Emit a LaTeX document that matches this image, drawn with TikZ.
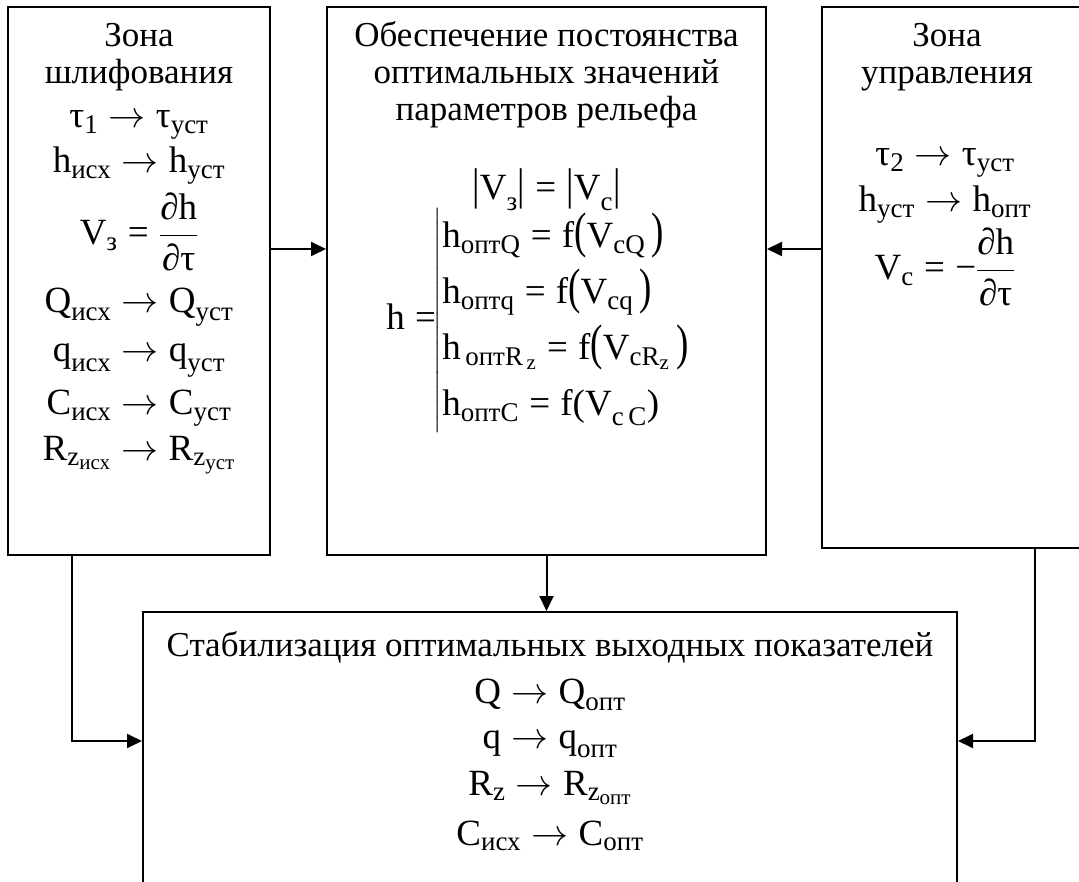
\RequirePackage{fix-cm}
\documentclass[tikz,border=0pt]{standalone}
\usepackage{fontspec}
\usepackage{amsmath}
\usepackage{graphicx}
\setmainfont{Liberation Serif}
\usetikzlibrary{arrows.meta,calc}
\DeclareMathSizes{37}{37}{27}{21}
\newcommand{\fs}{\fontsize{35}{38}\selectfont}
\newcommand{\ff}{\fontsize{37}{40}\selectfont}
\newcommand{\T}[1]{\text{#1}}
\newcommand{\EQ}{\mathrel{\T{=}}}
\newcommand{\bigP}[1]{\scalebox{1}[1.35]{#1}}
\newcommand{\vbr}{\scalebox{1}[1.2]{|}}
\tikzset{
  box/.style={draw, line width=2pt, rectangle, inner sep=0pt},
  txt/.style={anchor=base, inner sep=0pt, font=\fs},
  frm/.style={anchor=base, inner sep=0pt, font=\ff},
  arr/.style={line width=2pt, -{Triangle[length=15pt,width=14pt]}},
}
\begin{document}
\begin{tikzpicture}[x=1pt,y=1pt]
\clip (0,0) rectangle (1079,-882);
\fill[white] (0,0) rectangle (1079,-882);
% boxes
\node[box, minimum width=262pt, minimum height=548pt] (L) at (139,-281) {};
\node[box, minimum width=439pt, minimum height=548pt] (M) at (546.5,-281) {};
\node[box, minimum width=278pt, minimum height=541pt] (R) at (961,-277.5) {};
\node[box, minimum width=814pt, minimum height=308pt] (B) at (550,-766) {};
% left texts
\node[txt] (l1) at (139,-47) {Зона};
\node[txt] (l2) at (139,-84) {шлифования};
\node[frm] (l3) at (139,-128) {$\T{τ}_{\T{1}}\rightarrow\T{τ}_{\T{уст}}$};
\node[frm] (l4) at (139,-173) {$\T{h}_{\T{исх}}\rightarrow\T{h}_{\T{уст}}$};
\node[frm] (l5) at (139,-245) {$\T{V}_{\T{з}}\EQ\dfrac{\T{∂h}}{\T{∂τ}}$};
\node[frm] (l6) at (139,-313) {$\T{Q}_{\T{исх}}\rightarrow\T{Q}_{\T{уст}}$};
\node[frm] (l7) at (139,-362) {$\T{q}_{\T{исх}}\rightarrow\T{q}_{\T{уст}}$};
\node[frm] (l8) at (139,-415) {$\T{C}_{\T{исх}}\rightarrow\T{C}_{\T{уст}}$};
\node[frm] (l9) at (139,-460) {$\T{R}_{\T{z}_{\T{исх}}}\rightarrow\T{R}_{\T{z}_{\T{уст}}}$};
% middle texts
\node[txt] (m1) at (546.5,-47) {Обеспечение постоянства};
\node[txt] (m2) at (546.5,-84) {оптимальных значений};
\node[txt] (m3) at (546.5,-121) {параметров рельефа};
\node[frm] (m4) at (546.5,-200) {$\T{\vbr V}_{\T{з}}\T{\vbr}\EQ\T{\vbr V}_{\T{c}}\T{\vbr}$};
\node[frm] (m5) at (538,-330) {$\renewcommand{\arraystretch}{1.4}\T{h}\EQ\!\!\left|\begin{array}{@{}l@{}}
 \T{h}_{\T{оптQ}}\EQ\T{f}\bigP{(}\T{V}_{\T{cQ}}\,\bigP{)}\\
 \T{h}_{\T{оптq}}\EQ\T{f}\bigP{(}\T{V}_{\T{cq}}\,\bigP{)}\\
 \T{h}_{\,\T{оптR}_{\,\T{z}}}\EQ\T{f}\bigP{(}\T{V}_{\T{cR}_{\T{z}}}\,\bigP{)}\\
 \T{h}_{\T{оптC}}\EQ\T{f(V}_{\T{c\,C}}\T{)}
\end{array}\right.$};
% right texts
\node[txt] (r1) at (947,-47) {Зона};
\node[txt] (r2) at (947,-84) {управления};
\node[frm] (r3) at (945,-166) {$\T{τ}_{\T{2}}\rightarrow\T{τ}_{\T{уст}}$};
\node[frm] (r4) at (945,-212) {$\T{h}_{\T{уст}}\rightarrow\T{h}_{\T{опт}}$};
\node[frm] (r5) at (945,-280) {$\T{V}_{\T{c}}\EQ\T{−}\dfrac{\T{∂h}}{\T{∂τ}}$};
% bottom texts
\node[txt] (b1) at (550,-656) {Стабилизация оптимальных выходных показателей};
\node[frm] (b2) at (550,-703) {$\T{Q}\rightarrow\T{Q}_{\T{опт}}$};
\node[frm] (b3) at (550,-748) {$\T{q}\rightarrow\T{q}_{\T{опт}}$};
\node[frm] (b4) at (550,-795) {$\T{R}_{\T{z}}\rightarrow\T{R}_{\T{z}_{\T{опт}}}$};
\node[frm] (b5) at (550,-845) {$\T{C}_{\T{исх}}\rightarrow\T{C}_{\T{опт}}$};
% connectors
\coordinate (ya) at (0,-249);
\coordinate (lx) at (72,-741);
\coordinate (rx) at (1035,-741);
\draw[arr] (L.east |- ya) -- (M.west |- ya);
\draw[arr] (R.west |- ya) -- (M.east |- ya);
\draw[arr] (M.south) -- (M.south |- B.north);
\draw[arr] (L.south -| lx) -- (lx) -- (B.west |- lx);
\draw[arr] (R.south -| rx) -- (rx) -- (B.east |- rx);
\end{tikzpicture}
\end{document}
